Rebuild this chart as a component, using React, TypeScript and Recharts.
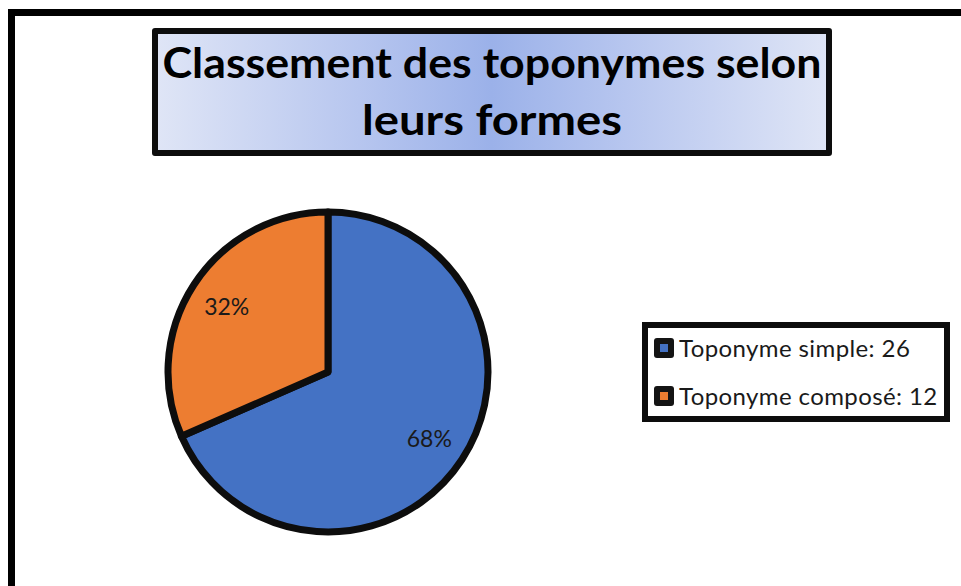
import { Legend, Pie, PieChart, Cell } from "recharts";

const categories = ["Toponyme simple", "Toponyme composé"];
const counts = [26, 12];
const colors = ["#4472C4", "#ED7D31"];
const titleLines = ["Classement des toponymes selon", "leurs  formes"];

const data = categories.map((name, i) => ({ name, value: counts[i] }));
const total = counts.reduce((a, b) => a + b, 0);

const RAD = Math.PI / 180;

function renderLabel(props: any) {
  const { cx, cy, midAngle, value } = props;
  const r = 121;
  const x = cx + r * Math.cos(-midAngle * RAD);
  const y = cy + r * Math.sin(-midAngle * RAD);
  return (
    <text x={x} y={y} textAnchor="middle" dominantBaseline="central" fill="#1a1a1a" fontSize={23} fontFamily="Lato, 'Open Sans', sans-serif">
      {`${Math.round((value / total) * 100)}%`}
    </text>
  );
}

function LegendBox({ payload }: any) {
  const items = [...(payload || [])].sort((a: any, b: any) => categories.indexOf(a.value) - categories.indexOf(b.value));
  return (
    <div
      style={{
        position: "relative",
        width: 296,
        height: 88,
        border: "6px solid #0d0d0d",
        background: "#fff",
        fontFamily: "Lato, 'Open Sans', sans-serif",
        fontSize: 24,
        letterSpacing: 0.4,
        color: "#1a1a1a",
      }}
    >
      {items.map((p: any) => {
        const i = categories.indexOf(p.value);
        return (
          <div key={p.value} style={{ position: "absolute", left: 6, top: 10 + i * 48, display: "flex", alignItems: "center", height: 20, whiteSpace: "nowrap" }}>
            <span
              style={{
                width: 20,
                height: 20,
                background: "#141414",
                borderRadius: 3,
                display: "inline-flex",
                alignItems: "center",
                justifyContent: "center",
                marginRight: 5,
              }}
            >
              <span style={{ width: 8, height: 8, background: colors[i] }} />
            </span>
            <span style={{ lineHeight: "20px" }}>{`${p.value}: ${counts[i]}`}</span>
          </div>
        );
      })}
    </div>
  );
}

export default function App() {
  return (
    <div style={{ position: "absolute", left: 0, top: 0, width: 961, height: 586, overflow: "hidden", background: "#fff" }}>
      <div style={{ position: "absolute", left: 8, top: 9, width: 1000, height: 700, borderTop: "7px solid #000", borderLeft: "7px solid #000" }} />
      <div
        style={{
          position: "absolute",
          left: 152,
          top: 28,
          width: 668,
          height: 116,
          border: "6px solid #0d0d0d",
          borderRadius: 3,
          background: "linear-gradient(to right, #dfe5f6 0%, #b7c6ef 30%, #9bb1e9 50%, #b7c6ef 70%, #dfe5f6 100%)",
        }}
      >
        <svg width={668} height={116} style={{ display: "block" }}>
          <text x={334} y={44} textAnchor="middle" fontSize={42} fontWeight={700} fontFamily="Lato, sans-serif" fill="#000" textLength={659} lengthAdjust="spacingAndGlyphs">
            {titleLines[0]}
          </text>
          <text x={334} y={101} textAnchor="middle" fontSize={42} fontWeight={700} fontFamily="Lato, sans-serif" fill="#000" textLength={260} lengthAdjust="spacingAndGlyphs">
            {titleLines[1]}
          </text>
        </svg>
      </div>
      <div style={{ position: "absolute", left: 0, top: 0 }}>
        <PieChart width={961} height={586} margin={{ top: 0, right: 0, bottom: 0, left: 0 }}>
          <Pie
            data={data}
            dataKey="value"
            nameKey="name"
            cx={328}
            cy={372}
            outerRadius={160}
            startAngle={90}
            endAngle={-270}
            stroke="#0d0d0d"
            strokeWidth={7}
            strokeLinejoin="round"
            label={renderLabel}
            labelLine={false}
            isAnimationActive={false}
          >
            {data.map((_, i) => (
              <Cell key={i} fill={colors[i]} />
            ))}
          </Pie>
          <Legend
            layout="vertical"
            content={<LegendBox />}
            wrapperStyle={{ position: "absolute", left: 642, top: 322, width: "auto", height: "auto" }}
          />
        </PieChart>
      </div>
    </div>
  );
}
